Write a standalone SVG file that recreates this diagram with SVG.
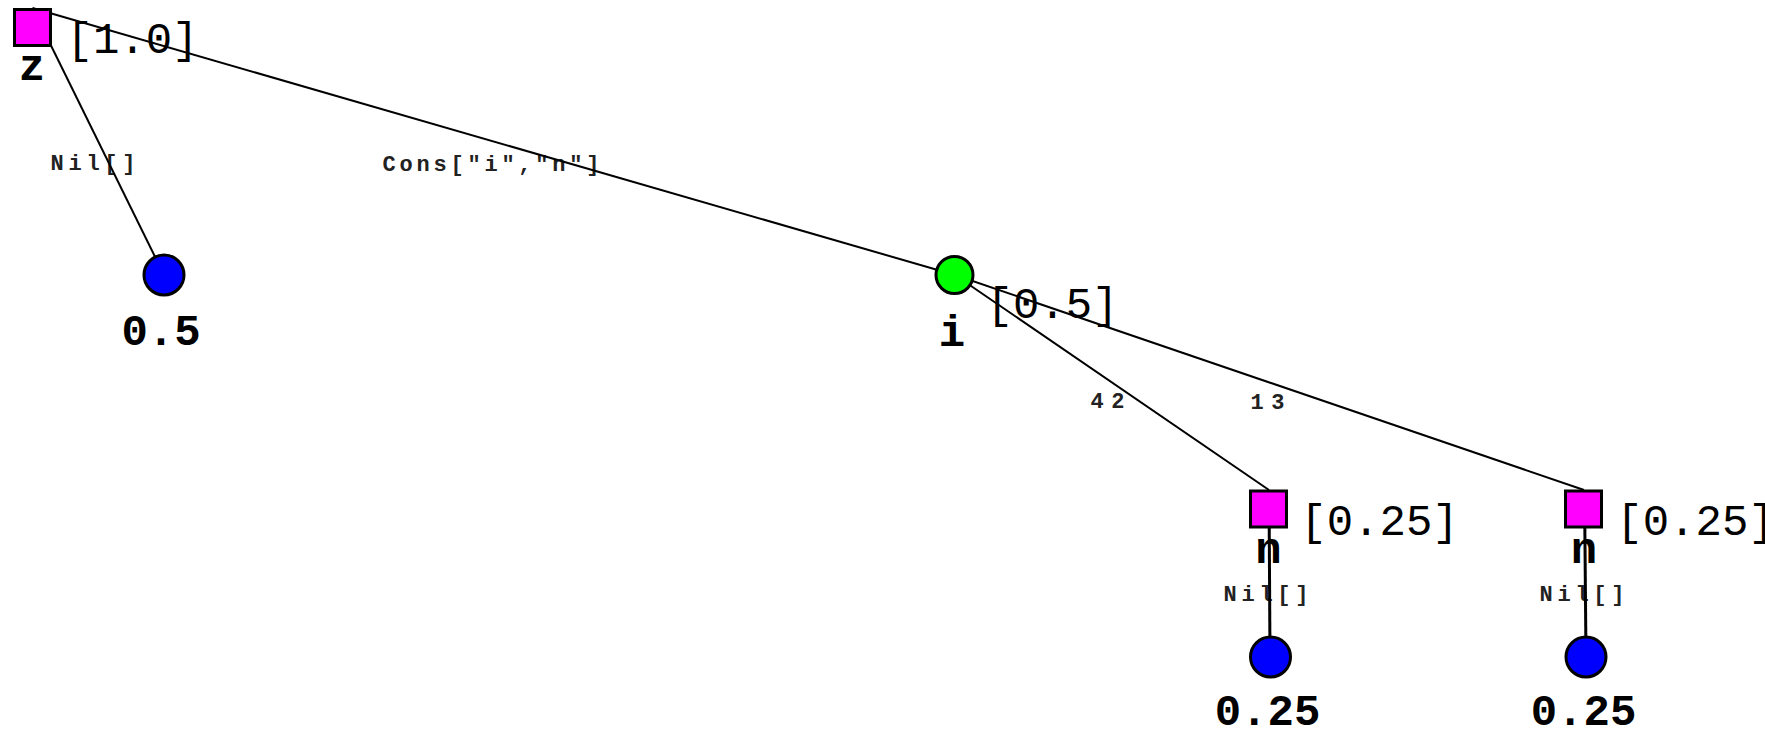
<svg xmlns="http://www.w3.org/2000/svg" width="1765" height="729" viewBox="0 0 1765 729">
<style>
.sq{fill:#ff00ff;stroke:#000;stroke-width:3}
.leaf{fill:#0000ff;stroke:#000;stroke-width:3}
.chance{fill:#00ff00;stroke:#000;stroke-width:3}
.edge{stroke:#000;stroke-width:2;fill:none}
.vedge{stroke:#000;stroke-width:3;fill:none}
.elab{font-family:"Liberation Mono",monospace;font-size:22px;font-weight:bold;fill:#222;text-anchor:middle}
.name{font-family:"Liberation Mono",monospace;font-size:44px;font-weight:bold;fill:#000;text-anchor:middle}
.prob{font-family:"Liberation Mono",monospace;font-size:44px;fill:#000;text-anchor:middle}
.val{font-family:"Liberation Mono",monospace;font-size:44px;font-weight:bold;fill:#000;text-anchor:middle}
</style>
<rect width="1765" height="729" fill="#fff"/>
<g id="edge-labels">
<text class="elab" x="93" y="170" textLength="85" lengthAdjust="spacing">Nil[]</text>
<text class="elab" x="491" y="171" textLength="217" lengthAdjust="spacing">Cons["i","n"]</text>
<text class="elab" x="1107.5" y="408" textLength="34" lengthAdjust="spacing">42</text>
<text class="elab" x="1267.5" y="409" textLength="34" lengthAdjust="spacing">13</text>
<text class="elab" x="1266" y="601" textLength="85" lengthAdjust="spacing">Nil[]</text>
<text class="elab" x="1582" y="601" textLength="85" lengthAdjust="spacing">Nil[]</text>
</g>
<g id="connectors">
<line class="edge" x1="32.5" y1="8" x2="164" y2="275"/>
<line class="edge" x1="32.5" y1="8" x2="955" y2="275"/>
<line class="edge" x1="955" y1="275" x2="1269" y2="490"/>
<line class="edge" x1="955" y1="275" x2="1584" y2="490"/>
<line class="vedge" x1="1269" y1="490" x2="1270" y2="657"/>
<line class="vedge" x1="1584.5" y1="490" x2="1586" y2="657"/>
</g>
<g id="node-z">
<rect class="sq" x="14.5" y="9.5" width="36" height="36"/>
<text class="name" x="32" y="80">z</text>
<text class="prob" x="132.5" y="53">[1.0]</text>
</g>
<g id="node-leaf-05">
<circle class="leaf" cx="164" cy="275" r="20"/>
<text class="val" x="161" y="345">0.5</text>
</g>
<g id="node-i">
<circle class="chance" cx="954.5" cy="275" r="18.5"/>
<text class="name" x="952" y="346">i</text>
<text class="prob" x="1052.5" y="318">[0.5]</text>
</g>
<g id="node-n1">
<rect class="sq" x="1250.5" y="491" width="36" height="36"/>
<text class="name" x="1268.5" y="563">n</text>
<text class="prob" x="1379.5" y="535">[0.25]</text>
</g>
<g id="node-n2">
<rect class="sq" x="1565.5" y="491" width="36" height="36"/>
<text class="name" x="1584" y="563">n</text>
<text class="prob" x="1695.5" y="535">[0.25]</text>
</g>
<g id="node-leaf-n1">
<circle class="leaf" cx="1270.5" cy="657" r="20"/>
<text class="val" x="1267.5" y="725">0.25</text>
</g>
<g id="node-leaf-n2">
<circle class="leaf" cx="1586" cy="657" r="20"/>
<text class="val" x="1583.5" y="725">0.25</text>
</g>
</svg>
